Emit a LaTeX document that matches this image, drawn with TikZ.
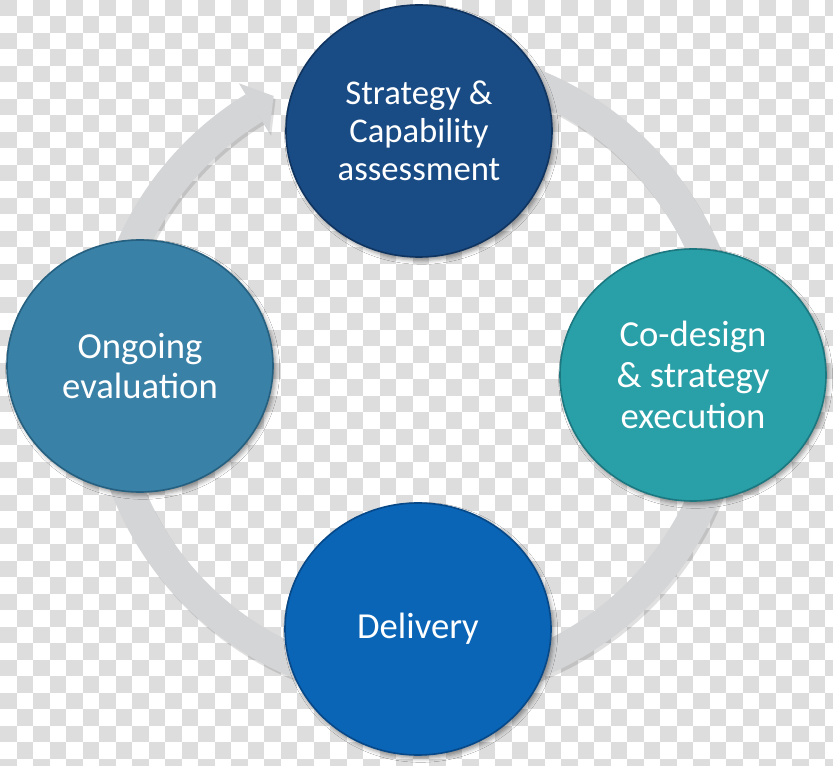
\documentclass[tikz,border=0pt]{standalone}
\usepackage{fontspec}
\setmainfont{Carlito}
\usetikzlibrary{shapes.geometric,calc,shadows.blur}
\definecolor{checkgrey}{RGB}{221,221,221}
\definecolor{ringgrey}{RGB}{212,213,215}
\definecolor{cTop}{RGB}{25,75,133}
\definecolor{cTopD}{RGB}{16,52,96}
\definecolor{cLeft}{RGB}{57,129,166}
\definecolor{cLeftD}{RGB}{38,96,128}
\definecolor{cRight}{RGB}{41,160,168}
\definecolor{cRightD}{RGB}{28,120,128}
\definecolor{cBot}{RGB}{10,101,182}
\definecolor{cBotD}{RGB}{6,72,136}
\begin{document}
\begin{tikzpicture}[x=0.75pt,y=-0.75pt,
  phase/.style={ellipse, minimum width=199.5pt, minimum height=189pt, inner sep=0pt,
    text=white, align=center, line width=1.2pt,
    blur shadow={shadow xshift=2pt, shadow yshift=-2.5pt, shadow blur radius=3pt, shadow opacity=40}},
  bigtext/.style={font=\fontsize{27.5pt}{30.5pt}\selectfont},
  toptext/.style={font=\fontsize{26pt}{28.5pt}\selectfont},
  ring/.style={line width=24pt, color=ringgrey}]
\useasboundingbox (0,0) rectangle (833,766);
% checkered background
\begin{scope}
\clip (0,0) rectangle (833,766);
\fill[white] (0,0) rectangle (833,766);
\foreach \i in {0,...,50}{
  \foreach \j in {0,...,46}{
    \pgfmathtruncatemacro\cpar{mod(\i+\j,2)}
    \ifnum\cpar=0 \fill[checkgrey] ({\i*16.5},{\j*16.5}) rectangle ++(16.5,16.5);\fi
  }}
\end{scope}
% ring with arrow
\coordinate (C) at (417,374);
\draw[line width=24pt, black, opacity=0.12] ($(C)+(2,3)$) ++(-80:312) arc[start angle=-80, end angle=238.5, radius=312];
\fill[black, opacity=0.12] ($(C)+(2,3)+(238.5:283)$) -- ($(C)+(2,3)+(238.5:312)+(328.5:23)$) -- ($(C)+(2,3)+(238.5:341)$) -- cycle;
\draw[ring] (C) ++(-80:312) arc[start angle=-80, end angle=238.5, radius=312];
\fill[ringgrey] ($(C)+(238.5:283)$) coordinate (hb1) -- ($(C)+(238.5:312)+(328.5:23)$) coordinate (tip) -- ($(C)+(238.5:341)$) coordinate (hb2) -- cycle;
% phases
\node[phase, fill=cTop, draw=cTopD, toptext] (strategy) at (419,131) {Strategy \&\\Capability\\assessment};
\node[phase, fill=cRight, draw=cRightD, bigtext] (codesign) at (693,375) {Co-design\\\& strategy\\execution};
\node[phase, fill=cBot, draw=cBotD, bigtext] (delivery) at (418,629) {Delivery};
\node[phase, fill=cLeft, draw=cLeftD, bigtext] (ongoing) at (140,366) {Ongoing\\evaluation};
\end{tikzpicture}
\end{document}
